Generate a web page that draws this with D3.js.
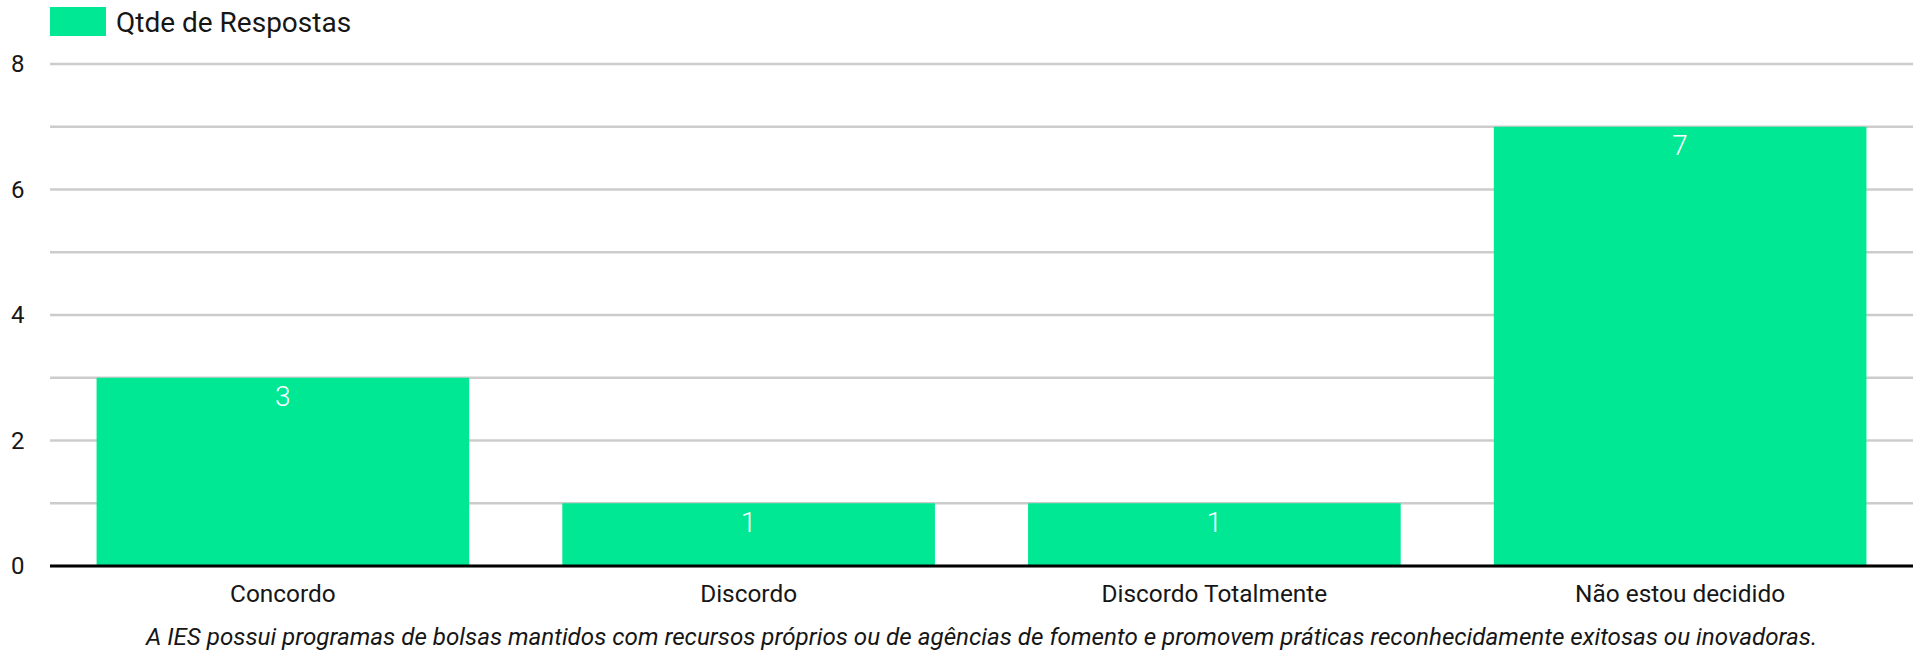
<!DOCTYPE html>
<html>
<head>
<meta charset="utf-8">
<script src="https://cdn.jsdelivr.net/npm/d3@7"></script>
<style>
  body { margin: 0; background: #fff; }
  text { font-family: Roboto, "Noto Sans", sans-serif; }
</style>
</head>
<body>
<div id="chart"></div>
<script>
// data
const categories = ["Concordo", "Discordo", "Discordo Totalmente", "Não estou decidido"];
const respostas = [3, 1, 1, 7];
const yTicks = [0, 1, 2, 3, 4, 5, 6, 7, 8];
const yLabels = [0, 2, 4, 6, 8];
const seriesName = "Qtde de Respostas";
const axisTitle = "A IES possui programas de bolsas mantidos com recursos próprios ou de agências de fomento e promovem práticas reconhecidamente exitosas ou inovadoras.";

const width = 1914;
const height = 651;
const margin = { top: 64, right: 1, bottom: 85, left: 50 };
const green = "#00e893";
const ink = "#161616";

const svg = d3.select("#chart").append("svg")
    .attr("width", width)
    .attr("height", height);

const x = d3.scaleBand()
    .domain(categories)
    .range([margin.left, width - margin.right])
    .paddingInner(0.2)
    .paddingOuter(0.1);

const y = d3.scaleLinear()
    .domain([0, 8])
    .range([height - margin.bottom, margin.top]);

// gridlines
svg.append("g")
    .selectAll("line")
    .data(yTicks)
    .join("line")
    .attr("x1", margin.left)
    .attr("x2", width - margin.right)
    .attr("y1", d => y(d))
    .attr("y2", d => y(d))
    .attr("stroke", "#cccccc")
    .attr("stroke-width", 2.5);

// y labels
svg.append("g")
    .selectAll("text")
    .data(yLabels)
    .join("text")
    .attr("x", 24.5)
    .attr("y", d => y(d))
    .attr("dy", "0.35em")
    .attr("text-anchor", "end")
    .attr("font-size", 24)
    .attr("fill", ink)
    .text(d => d);

// bars
svg.append("g")
    .selectAll("rect")
    .data(respostas)
    .join("rect")
    .attr("x", (d, i) => x(categories[i]))
    .attr("y", d => y(d))
    .attr("width", x.bandwidth())
    .attr("height", d => y(0) - y(d))
    .attr("fill", green);

// value labels
svg.append("g")
    .selectAll("text")
    .data(respostas)
    .join("text")
    .attr("x", (d, i) => x(categories[i]) + x.bandwidth() / 2)
    .attr("y", d => y(d) + 28.5)
    .attr("text-anchor", "middle")
    .attr("font-size", 28)
    .attr("font-weight", 300)
    .attr("fill", "#fff")
    .text(d => d);

// baseline
svg.append("line")
    .attr("x1", margin.left)
    .attr("x2", width - margin.right)
    .attr("y1", y(0))
    .attr("y2", y(0))
    .attr("stroke", "#000")
    .attr("stroke-width", 3);

// category labels
svg.append("g")
    .selectAll("text")
    .data(categories)
    .join("text")
    .attr("x", d => x(d) + x.bandwidth() / 2)
    .attr("y", 602)
    .attr("text-anchor", "middle")
    .attr("font-size", 24.4)
    .attr("fill", ink)
    .text(d => d);

// axis title
svg.append("text")
    .attr("x", (margin.left + width - margin.right) / 2)
    .attr("y", 645)
    .attr("text-anchor", "middle")
    .attr("font-size", 24.2)
    .attr("font-style", "italic")
    .attr("fill", ink)
    .text(axisTitle);

// legend
const legend = svg.append("g");
legend.append("rect")
    .attr("x", 50)
    .attr("y", 7)
    .attr("width", 56)
    .attr("height", 29)
    .attr("fill", green);
legend.append("text")
    .attr("x", 116)
    .attr("y", 31.5)
    .attr("font-size", 28)
    .attr("fill", ink)
    .text(seriesName);
</script>
</body>
</html>
